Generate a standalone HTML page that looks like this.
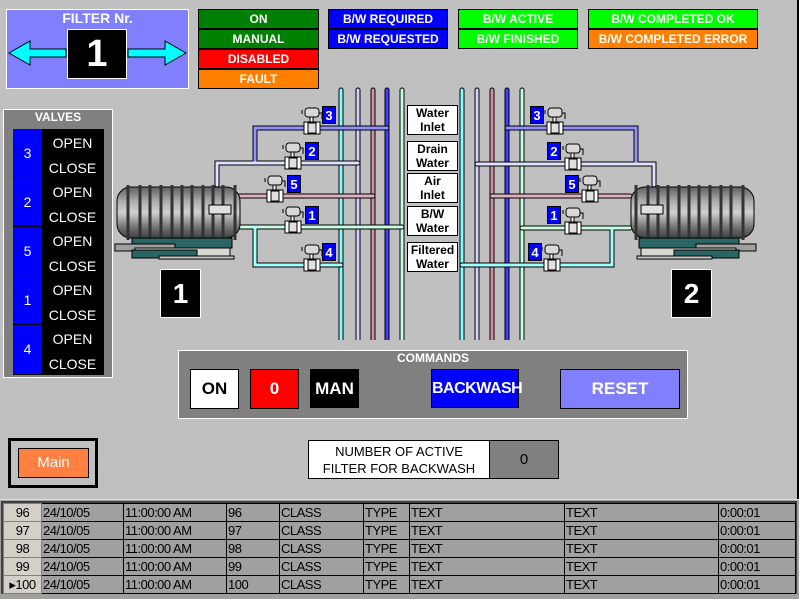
<!DOCTYPE html>
<html><head><meta charset="utf-8"><style>
*{margin:0;padding:0;box-sizing:border-box}
body{width:799px;height:599px;background:#c0c0c0;position:relative;overflow:hidden;font-family:"Liberation Sans",sans-serif}
.a{position:absolute}
.st{position:absolute;border:1px solid #000;color:#fff;font-weight:bold;font-size:12px;text-align:center;line-height:18px;height:20px}
.lbl{position:absolute;left:407px;width:51px;background:#fff;border:1px solid #000;font-weight:bold;font-size:12px;text-align:center;line-height:14px}
.vn{position:absolute;background:#0000ff;color:#fff;font-weight:bold;font-size:13px;width:14px;height:18px;text-align:center;line-height:18px;border:1px solid #000}
.btn{position:absolute;border:1px solid #000;font-weight:bold;font-size:17px;text-align:center}
table{border-collapse:collapse;font-size:13px;letter-spacing:-0.5px}
td{border:1px solid #000;height:18px;padding:0 1px;line-height:16px;background:#a0a0a0;white-space:nowrap;overflow:hidden}
td.h{background:#d4d0c8;text-align:center;border:1px solid #808080}
</style></head><body>
<div class="a" style="left:797px;top:0;width:2px;height:500px;background:#000"></div>
<div class="a" style="left:6px;top:9px;width:183px;height:80px;background:#8080ff;border:1px solid #fff"></div>
<div class="a" style="left:6px;top:10px;width:183px;text-align:center;color:#fff;font-size:14px;font-weight:bold">FILTER Nr.</div>
<svg class="a" style="left:0;top:0" width="200" height="90">
<polygon points="9,53 30,41 30,49 66,49 66,57 30,57 30,65" fill="#00ffff" stroke="#000"/>
<polygon points="186,53 165,41 165,49 128,49 128,57 165,57 165,65" fill="#00ffff" stroke="#000"/>
</svg>
<div class="a" style="left:67px;top:29px;width:60px;height:50px;background:#000;border:1px solid #fff;color:#fff;font-weight:bold;font-size:38px;text-align:center;line-height:48px">1</div>
<div class="st" style="left:198px;top:9px;width:121px;background:#008000">ON</div>
<div class="st" style="left:198px;top:29px;width:121px;background:#008000">MANUAL</div>
<div class="st" style="left:198px;top:49px;width:121px;background:#ff0000">DISABLED</div>
<div class="st" style="left:198px;top:69px;width:121px;background:#ff8000">FAULT</div>
<div class="st" style="left:328px;top:9px;width:120px;background:#0000ff">B/W REQUIRED</div>
<div class="st" style="left:328px;top:29px;width:120px;background:#0000ff">B/W REQUESTED</div>
<div class="st" style="left:458px;top:9px;width:120px;background:#00ff00">B/W ACTIVE</div>
<div class="st" style="left:458px;top:29px;width:120px;background:#00ff00">B/W FINISHED</div>
<div class="st" style="left:588px;top:9px;width:170px;background:#00ff00">B/W COMPLETED OK</div>
<div class="st" style="left:588px;top:29px;width:170px;background:#ff8000">B/W COMPLETED ERROR</div>
<div class="a" style="left:3px;top:109px;width:110px;height:269px;background:#808080;border:1px solid #fff"></div>
<div class="a" style="left:3px;top:110px;width:110px;text-align:center;color:#fff;font-weight:bold;font-size:12px">VALVES</div>
<div class="a" style="left:13px;top:129px;width:91px;height:246px;background:#000;border:1px solid #000"></div>
<div class="a" style="left:13px;top:129px;width:29px;height:246px;color:#fff;font-size:14px">
<div style="height:49px;background:#0000ff;border-bottom:1px solid #000;text-align:center;line-height:49px">3</div>
<div style="height:49px;background:#0000ff;border-bottom:1px solid #000;text-align:center;line-height:49px">2</div>
<div style="height:49px;background:#0000ff;border-bottom:1px solid #000;text-align:center;line-height:49px">5</div>
<div style="height:49px;background:#0000ff;border-bottom:1px solid #000;text-align:center;line-height:49px">1</div>
<div style="height:49px;background:#0000ff;text-align:center;line-height:49px">4</div>
</div>
<div class="a" style="left:42px;top:131px;width:61px;color:#fff;font-size:14px;text-align:center;line-height:24.5px">OPEN<br>CLOSE<br>OPEN<br>CLOSE<br>OPEN<br>CLOSE<br>OPEN<br>CLOSE<br>OPEN<br>CLOSE</div>
<svg class="a" style="left:0;top:0" width="799" height="340">
<defs>
<linearGradient id="tk" x1="0" y1="0" x2="0" y2="1">
<stop offset="0" stop-color="#606060"/><stop offset=".3" stop-color="#b0b0b0"/><stop offset=".5" stop-color="#d0d0d0"/><stop offset=".8" stop-color="#707070"/><stop offset="1" stop-color="#404040"/></linearGradient>
<g id="valve"><rect x="-6" y="-20" width="14" height="9" rx="3" fill="#d8d8d8" stroke="#000"/><path d="M8,-15h3v6" stroke="#000" fill="none"/><path d="M-9,-14v-4" stroke="#000"/><rect x="-1" y="-11" width="3" height="5" fill="#fff" stroke="#000"/><rect x="-7" y="-6" width="16" height="12" fill="#fff" stroke="#000"/><rect x="-3" y="-5" width="8" height="10" fill="#e0e0e0" stroke="#000"/></g>
<g id="tank"><rect x="0" y="0" width="123" height="51" rx="14" fill="url(#tk)" stroke="#000"/>
<g stroke="#333" stroke-width="3"><path d="M11,-2v55M23,-2v55M33,-2v55M44,-2v55M55,-2v55M65,-2v55M75,-2v55M86,-2v55M96,-2v55M106,-2v55M118,-2v55"/></g>
<rect x="15" y="51" width="100" height="10" fill="#2a6464" stroke="#000"/>
<rect x="-2" y="57" width="60" height="7" fill="#a0a0a0" stroke="#000"/>
<rect x="18" y="61" width="95" height="8" fill="#d8d8d0" stroke="#000"/>
<rect x="15" y="63" width="65" height="8" fill="#2a6464" stroke="#000"/>
<rect x="42" y="69" width="75" height="3" fill="#ccc" stroke="#000"/></g>
</defs>
<g fill="none" stroke-width="3" stroke-linecap="round">
<g stroke="#000" stroke-width="5"><path d="M341,90V340M358,90V340M373,90V340M387,90V340M402,90V340M462,90V340M477,90V340M492,90V340M507,90V340M522,90V340"/></g>
<path d="M341,90V340M462,90V340" stroke="#80ffff"/>
<path d="M358,90V340M477,90V340" stroke="#d0d0ff"/>
<path d="M373,90V340M492,90V340" stroke="#d090a8"/>
<path d="M387,90V340M507,90V340" stroke="#4040ff"/>
<path d="M402,90V340M522,90V340" stroke="#c0ffe0"/>
<g stroke="#000" stroke-width="5">
<path d="M387,128H255V163M358,163H217V185M373,196H240M402,227H240M255,227V265H341"/>
<path d="M507,128H636V163M477,164H654V185M492,196H630M522,228H630M612,228V265H462"/></g>
<path d="M387,128H255V163M507,128H636V163" stroke="#9090ff"/>
<path d="M358,163H217V185M477,164H654V185" stroke="#e0e0ff"/>
<path d="M373,196H240M492,196H630" stroke="#e0b0c0"/>
<path d="M402,227H240M522,228H630" stroke="#c8ffe0"/>
<path d="M255,227V265H341M612,228V265H462" stroke="#a0ffff"/>
</g>
<use href="#tank" x="117" y="187"/>
<use href="#tank" x="-754" y="187" transform="scale(-1,1)"/>
<rect x="209" y="205" width="22" height="9" fill="#e0e0e0" stroke="#000"/>
<rect x="641" y="205" width="22" height="9" fill="#e0e0e0" stroke="#000"/>
<use href="#valve" x="311" y="128"/><use href="#valve" x="292" y="163"/><use href="#valve" x="274" y="196"/><use href="#valve" x="292" y="227"/><use href="#valve" x="311" y="265"/>
<use href="#valve" x="554" y="128"/><use href="#valve" x="572" y="164"/><use href="#valve" x="589" y="196"/><use href="#valve" x="572" y="228"/><use href="#valve" x="551" y="265"/>
</svg>
<div class="vn" style="left:322px;top:106px">3</div><div class="vn" style="left:305px;top:142px">2</div><div class="vn" style="left:287px;top:175px">5</div><div class="vn" style="left:305px;top:206px">1</div><div class="vn" style="left:322px;top:243px">4</div>
<div class="vn" style="left:530px;top:106px">3</div><div class="vn" style="left:547px;top:142px">2</div><div class="vn" style="left:565px;top:175px">5</div><div class="vn" style="left:547px;top:206px">1</div><div class="vn" style="left:528px;top:243px">4</div>
<div class="lbl" style="top:105px;height:30px">Water<br>Inlet</div>
<div class="lbl" style="top:141px;height:30px">Drain<br>Water</div>
<div class="lbl" style="top:173px;height:30px">Air<br>Inlet</div>
<div class="lbl" style="top:206px;height:30px">B/W<br>Water</div>
<div class="lbl" style="top:242px;height:30px">Filtered<br>Water</div>
<div class="a" style="left:160px;top:269px;width:41px;height:49px;background:#000;border:1px solid #fff;color:#fff;font-weight:bold;font-size:28px;text-align:center;line-height:47px">1</div>
<div class="a" style="left:671px;top:269px;width:41px;height:49px;background:#000;border:1px solid #fff;color:#fff;font-weight:bold;font-size:28px;text-align:center;line-height:47px">2</div>
<div class="a" style="left:178px;top:350px;width:510px;height:69px;background:#808080;border:1px solid #fff"></div>
<div class="a" style="left:178px;top:351px;width:510px;text-align:center;color:#fff;font-weight:bold;font-size:12px">COMMANDS</div>
<div class="btn" style="left:190px;top:369px;width:49px;height:40px;background:#fff;line-height:38px">ON</div>
<div class="btn" style="left:250px;top:369px;width:49px;height:40px;background:#ff0000;color:#fff;line-height:38px">0</div>
<div class="btn" style="left:310px;top:369px;width:49px;height:39px;background:#000;color:#fff;line-height:37px">MAN</div>
<div class="btn" style="left:431px;top:369px;width:88px;height:39px;background:#0000ff;color:#fff;line-height:37px;font-size:16px;letter-spacing:-0.5px">BACKWASH</div>
<div class="btn" style="left:560px;top:369px;width:120px;height:40px;background:#8080ff;color:#fff;line-height:38px">RESET</div>
<div class="a" style="left:8px;top:438px;width:90px;height:50px;border:3px solid #000"></div>
<div class="a" style="left:18px;top:448px;width:71px;height:30px;background:#ff8040;border:1px solid #000;color:#fff;font-size:15px;text-align:center;line-height:28px">Main</div>
<div class="a" style="left:308px;top:440px;width:182px;height:39px;background:#fff;border:1px solid #000;font-size:13px;text-align:center;line-height:17px;padding-top:2px">NUMBER OF ACTIVE<br>FILTER FOR BACKWASH</div>
<div class="a" style="left:489px;top:440px;width:70px;height:39px;background:#808080;border:1px solid #000;font-size:15px;text-align:center;line-height:37px">0</div>
<div class="a" style="left:0;top:499px;width:799px;height:100px;background:#a0a0a0;border-top:1px solid #e0e0e0"></div>
<div class="a" style="left:1px;top:501px;width:796px;height:93px;border:2px solid #404040;background:#a0a0a0"></div>
<table class="a" style="left:3px;top:503px;width:793px">
<colgroup><col style="width:38px"><col style="width:82px"><col style="width:103px"><col style="width:53px"><col style="width:84px"><col style="width:46px"><col style="width:155px"><col style="width:154px"><col></colgroup>
<tr><td class="h">96</td><td>24/10/05</td><td>11:00:00 AM</td><td>96</td><td>CLASS</td><td>TYPE</td><td>TEXT</td><td>TEXT</td><td>0:00:01</td></tr>
<tr><td class="h">97</td><td>24/10/05</td><td>11:00:00 AM</td><td>97</td><td>CLASS</td><td>TYPE</td><td>TEXT</td><td>TEXT</td><td>0:00:01</td></tr>
<tr><td class="h">98</td><td>24/10/05</td><td>11:00:00 AM</td><td>98</td><td>CLASS</td><td>TYPE</td><td>TEXT</td><td>TEXT</td><td>0:00:01</td></tr>
<tr><td class="h">99</td><td>24/10/05</td><td>11:00:00 AM</td><td>99</td><td>CLASS</td><td>TYPE</td><td>TEXT</td><td>TEXT</td><td>0:00:01</td></tr>
<tr><td class="h">&#9656;100</td><td>24/10/05</td><td>11:00:00 AM</td><td>100</td><td>CLASS</td><td>TYPE</td><td>TEXT</td><td>TEXT</td><td>0:00:01</td></tr>
</table>
</body></html>
